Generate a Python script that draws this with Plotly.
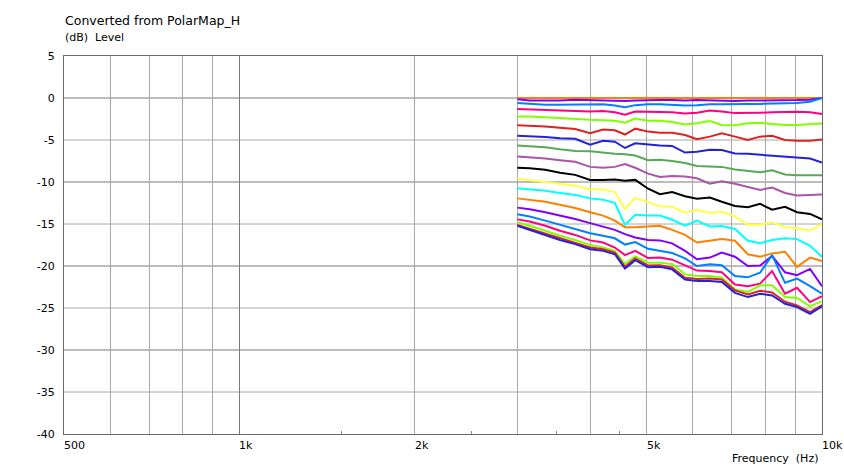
import math
import plotly.graph_objects as go

# ---------------- data ----------------
freqs = [3000, 3150, 3350, 3550, 3770, 4000, 4210, 4410, 4590, 4780, 5030, 5270, 5530,
         5820, 6100, 6420, 6730, 7090, 7460, 7830, 8210, 8640, 9060, 9540, 10000]

angles = ["0°", "10°", "20°", "30°", "40°", "50°", "60°", "70°", "80°", "90°",
          "100°", "110°", "120°", "130°", "140°", "150°", "160°", "170°", "180°"]

lvl_000 = [0.0] * 25
lvl_010 = [-0.15, -0.3, -0.3, -0.3, -0.2, -0.25, -0.3, -0.35, -0.35, -0.3, -0.25, -0.25, -0.25,
           -0.3, -0.25, -0.3, -0.35, -0.35, -0.3, -0.3, -0.25, -0.25, -0.25, -0.2, 0.0]
lvl_020 = [-0.6, -0.7, -0.8, -0.8, -0.8, -0.75, -0.75, -0.9, -1.1, -0.85, -0.75, -0.75, -0.8,
           -0.9, -0.85, -0.75, -0.75, -0.7, -0.7, -0.7, -0.65, -0.6, -0.6, -0.45, 0.0]
lvl_030 = [-1.3, -1.35, -1.45, -1.5, -1.6, -1.6, -1.55, -1.7, -2.0, -1.6, -1.65, -1.7, -1.7,
           -1.85, -1.75, -1.5, -1.6, -1.8, -1.8, -1.75, -1.7, -1.65, -1.65, -1.7, -1.9]
lvl_040 = [-2.2, -2.2, -2.3, -2.4, -2.55, -2.6, -2.65, -2.7, -2.95, -2.45, -2.7, -2.7, -2.85,
           -3.15, -3.0, -2.75, -3.2, -3.25, -3.0, -2.95, -3.1, -3.2, -3.2, -3.1, -3.05]
lvl_050 = [-3.25, -3.3, -3.4, -3.55, -3.7, -4.2, -3.75, -3.85, -4.35, -3.65, -4.0, -4.15, -4.15,
           -4.4, -4.9, -4.6, -4.2, -4.6, -5.0, -4.6, -4.5, -5.0, -5.1, -5.1, -4.95]
lvl_060 = [-4.5, -4.55, -4.65, -4.8, -4.85, -5.55, -5.1, -5.2, -5.95, -5.4, -5.55, -5.65, -5.7,
           -6.5, -6.4, -6.15, -6.2, -6.6, -6.65, -6.75, -6.9, -6.95, -7.05, -7.2, -7.7]
lvl_070 = [-5.65, -5.7, -5.85, -6.1, -6.3, -6.35, -6.55, -6.65, -6.7, -6.85, -7.4, -7.35, -7.5,
           -7.75, -8.1, -8.15, -8.2, -8.5, -8.7, -8.85, -8.6, -9.1, -9.2, -9.2, -9.2]
lvl_080 = [-6.95, -7.05, -7.2, -7.4, -7.6, -8.2, -8.3, -8.2, -7.85, -8.3, -9.0, -9.4, -9.3,
           -9.35, -9.55, -10.2, -9.9, -10.2, -10.6, -10.95, -10.65, -11.3, -11.6, -11.55, -11.5]
lvl_090 = [-8.3, -8.35, -8.55, -8.9, -9.15, -9.75, -9.75, -9.7, -9.85, -9.75, -10.8, -11.45, -11.2,
           -11.7, -12.0, -11.85, -12.35, -12.85, -13.0, -12.6, -13.3, -12.95, -13.6, -13.8, -14.45]
lvl_100 = [-9.6, -9.75, -9.95, -10.2, -10.45, -10.85, -10.9, -11.2, -13.2, -11.9, -12.4, -12.9, -12.95,
           -13.65, -13.3, -13.7, -13.55, -14.1, -15.1, -15.1, -14.8, -15.4, -15.5, -15.8, -15.0]
lvl_110 = [-10.75, -10.85, -11.05, -11.3, -11.55, -11.95, -12.1, -12.5, -15.1, -13.9, -14.0, -14.0, -14.5,
           -15.2, -14.6, -15.3, -15.25, -15.6, -17.0, -17.3, -16.9, -16.7, -16.8, -17.6, -18.9]
lvl_120 = [-11.95, -12.1, -12.35, -12.7, -13.1, -13.6, -14.0, -14.6, -15.4, -15.4, -15.3, -15.2, -15.7,
           -16.3, -17.2, -17.0, -16.8, -17.0, -18.6, -18.9, -18.5, -18.3, -20.1, -19.0, -19.4]
lvl_130 = [-13.05, -13.25, -13.6, -14.0, -14.4, -14.9, -15.3, -15.7, -16.2, -16.6, -16.9, -16.95, -17.3,
           -18.2, -19.2, -19.0, -18.4, -18.9, -20.0, -19.95, -18.8, -20.75, -21.1, -20.35, -22.4]
lvl_140 = [-13.85, -14.1, -14.6, -15.1, -15.6, -16.1, -16.4, -16.7, -17.45, -17.15, -17.95, -18.2, -18.45,
           -19.1, -20.0, -19.8, -19.9, -21.2, -21.35, -20.8, -18.7, -22.0, -21.5, -22.4, -23.3]
lvl_150 = [-14.45, -14.7, -15.2, -15.8, -16.3, -16.95, -17.2, -17.8, -18.7, -18.2, -19.05, -19.0, -19.25,
           -19.9, -20.55, -20.6, -20.75, -22.2, -22.4, -22.1, -20.6, -23.3, -22.6, -24.3, -23.6]
lvl_160 = [-14.8, -15.2, -15.8, -16.4, -16.9, -17.5, -17.8, -18.2, -19.75, -18.85, -19.6, -19.6, -19.75,
           -21.0, -21.2, -21.2, -21.35, -22.8, -23.1, -22.3, -22.3, -23.7, -23.8, -24.8, -24.2]
lvl_170 = [-15.1, -15.55, -16.1, -16.7, -17.2, -17.8, -18.0, -18.4, -20.1, -19.1, -19.95, -19.9, -20.2,
           -21.4, -21.55, -21.5, -21.6, -22.9, -23.4, -22.95, -23.15, -24.25, -24.7, -25.5, -24.65]
lvl_180 = [-15.2, -15.7, -16.3, -16.9, -17.4, -18.0, -18.2, -18.6, -20.3, -19.3, -20.15, -20.1, -20.4,
           -21.6, -21.8, -21.8, -21.9, -23.2, -23.7, -23.3, -23.5, -24.5, -24.9, -25.7, -24.8]

series = [lvl_000, lvl_010, lvl_020, lvl_030, lvl_040, lvl_050, lvl_060, lvl_070, lvl_080, lvl_090,
          lvl_100, lvl_110, lvl_120, lvl_130, lvl_140, lvl_150, lvl_160, lvl_170, lvl_180]

palette = ["#FF8000", "#8000FF", "#0080FF", "#FF0080", "#80FF00", "#DD2222", "#2222DD",
           "#55AA55", "#AA55AA", "#000000", "#FFFF44", "#00FFFF"]

x_tick_vals = [500, 1000, 2000, 5000, 10000]
x_tick_text = ["500", "1k", "2k", "5k", "10k"]
x_minor_grid = [600, 700, 800, 900, 2000, 3000, 4000, 5000, 6000, 7000, 8000, 9000]
x_major_grid = [1000]
x_small_ticks = [1500, 2500, 3500, 4500]
y_tick_vals = [5, 0, -5, -10, -15, -20, -25, -30, -35, -40]

title_text = "Converted from PolarMap_H"
y_title = "(dB)  Level"
x_title = "Frequency  (Hz)"

# ---------------- figure ----------------
FONT = "DejaVu Sans"
fig = go.Figure()

# 0° trace is drawn last among the top group so it stays visible
order = list(range(1, len(series))) 
fig.add_trace(go.Scatter(x=freqs, y=series[0], mode="lines", name=angles[0],
                         line=dict(color=palette[0], width=2),
                         showlegend=False, hoverinfo="skip"))
for i in order:
    fig.add_trace(go.Scatter(x=freqs, y=series[i], mode="lines", name=angles[i],
                             line=dict(color=palette[i % len(palette)], width=2),
                             showlegend=False, hoverinfo="skip"))

# invisible trace on second x axis carrying the small ticks
fig.add_trace(go.Scatter(x=[500, 10000], y=[None, None], xaxis="x2", showlegend=False))

fig.update_layout(
    width=844, height=469,
    margin=dict(l=64, r=22, t=56, b=35),
    paper_bgcolor="white", plot_bgcolor="white",
    font=dict(family=FONT, size=11, color="#000000"),
    xaxis=dict(type="log", range=[math.log10(500), math.log10(10000)],
               tickvals=x_major_grid, showticklabels=False, ticks="",
               showgrid=True, gridcolor="#7a7a7a", gridwidth=1,
               minor=dict(tickvals=x_minor_grid, showgrid=True, gridcolor="#a8a8a8",
                          gridwidth=1, ticks=""),
               showline=True, linecolor="#6a6a6a", linewidth=1, mirror=True,
               zeroline=False),
    xaxis2=dict(type="log", range=[math.log10(500), math.log10(10000)],
                overlaying="x", anchor="y", side="bottom",
                tickvals=x_small_ticks, ticks="inside", ticklen=3, tickcolor="#888888",
                showticklabels=False, showgrid=False, showline=False, zeroline=False),
    yaxis=dict(range=[-40, 5], tickvals=y_tick_vals,
               ticktext=[str(v) for v in y_tick_vals],
               showgrid=False, ticks="", ticklabelstandoff=6,
               tickfont=dict(family=FONT, size=11),
               showline=True, linecolor="#6a6a6a", linewidth=1, mirror=True,
               zeroline=False),
)

# horizontal grid lines: darker at multiples of 10, lighter at the 5s
for v in y_tick_vals:
    if v in (5, -40):
        continue
    fig.add_shape(type="line", xref="paper", x0=0, x1=1, yref="y", y0=v, y1=v,
                  line=dict(color="#7a7a7a" if v % 10 == 0 else "#a8a8a8", width=1),
                  layer="below")

# x tick labels, left-aligned at their tick
for v, t in zip(x_tick_vals, x_tick_text):
    fig.add_annotation(x=math.log10(v), xref="x", y=-0.008, yref="paper",
                       text=t, showarrow=False, xanchor="left", yanchor="top",
                       xshift=-2, font=dict(family=FONT, size=11))

fig.add_annotation(x=0, xref="paper", y=1.095, yref="paper", text=title_text,
                   showarrow=False, xanchor="left", yanchor="middle", xshift=-1,
                   font=dict(family=FONT, size=12.5))
fig.add_annotation(x=0, xref="paper", y=1.048, yref="paper", text=y_title,
                   showarrow=False, xanchor="left", yanchor="middle", xshift=-1,
                   font=dict(family=FONT, size=11))
fig.add_annotation(x=1, xref="paper", y=-0.064, yref="paper", text=x_title,
                   showarrow=False, xanchor="right", yanchor="middle", xshift=-2,
                   font=dict(family=FONT, size=11))

fig.write_html(
    "out.html",
    config={"displayModeBar": False},
    post_script="document.body.style.margin='0px';document.body.style.overflow='hidden';",
)
